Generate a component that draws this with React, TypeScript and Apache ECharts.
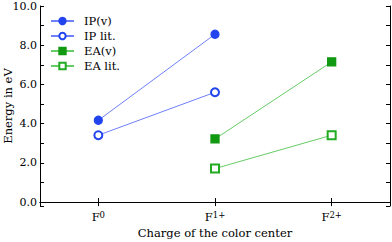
import React, { useEffect, useRef } from "react";
import * as echarts from "echarts";

const categories = ["F0", "F1+", "F2+"];
const ipV = [4.17, 8.56, null];
const ipLit = [3.41, 5.6, null];
const eaV = [null, 3.22, 7.15];
const eaLit = [null, 1.71, 3.41];

const FONT = "DejaVu Serif";

export default function App() {
  const ref = useRef<HTMLDivElement>(null);
  useEffect(() => {
    const chart = echarts.init(ref.current!, null, { renderer: "svg" });
    const yBase = {
      type: "value" as const,
      min: -0.2,
      max: 10,
      splitNumber: 5,
      splitLine: { show: false },
      axisLine: { show: true, lineStyle: { color: "#000", width: 1 } },
      axisTick: { show: true, inside: true, length: 4, lineStyle: { color: "#000" } },
      minorTick: { show: true, splitNumber: 2, length: 4, lineStyle: { color: "#000" } },
    };
    const xBase = {
      type: "category" as const,
      data: categories,
      boundaryGap: true,
      splitLine: { show: false },
      axisLine: { show: true, lineStyle: { color: "#000", width: 1 } },
      axisTick: { show: true, inside: true, length: 4, alignWithLabel: true, lineStyle: { color: "#000" } },
    };
    const line = (name: string, data: (number | null)[], color: string, lineColor: string, symbol: string) => ({
      name,
      type: "line" as const,
      data,
      symbol,
      symbolSize: 8,
      connectNulls: false,
      itemStyle: { color, borderColor: color, borderWidth: 1.3 },
      lineStyle: { color: lineColor, width: 1 },
    });
    chart.setOption({
      animation: false,
      textStyle: { fontFamily: FONT },
      grid: { left: 40, top: 6, right: 2, bottom: 36, containLabel: false, outerBoundsMode: "none" },
      legend: {
        orient: "vertical",
        left: 50,
        top: 15,
        padding: 0,
        itemWidth: 23,
        itemHeight: 8,
        itemGap: 3,
        textStyle: { fontFamily: FONT, fontSize: 11.5, color: "#000", padding: [0, 0, 0, 5] },
        data: ["IP(v)", "IP lit.", "EA(v)", "EA lit."],
      },
      xAxis: [
        {
          ...xBase,
          position: "bottom",
          name: "Charge of the color center",
          nameLocation: "middle",
          nameGap: 21,
          nameMoveOverlap: false,
          nameTextStyle: { fontFamily: FONT, fontSize: 11.5, color: "#000" },
          axisLabel: {
            fontFamily: FONT,
            fontSize: 11.5,
            color: "#000",
            margin: 4,
            formatter: (v: string) => `{b|F}{s|${v.slice(1)}}`,
            rich: {
              b: { fontFamily: FONT, fontSize: 11.5, color: "#000", verticalAlign: "bottom" },
              s: { fontFamily: FONT, fontSize: 8.5, color: "#000", verticalAlign: "top", padding: [0, 0, 4, 0] },
            },
          },
        },
        { ...xBase, position: "top", axisLabel: { show: false } },
      ],
      yAxis: [
        {
          ...yBase,
          position: "left",
          name: "Energy in eV",
          nameLocation: "middle",
          nameGap: 26,
          nameMoveOverlap: false,
          nameTextStyle: { fontFamily: FONT, fontSize: 11.5, color: "#000" },
          axisLabel: {
            fontFamily: FONT,
            fontSize: 11,
            color: "#000",
            margin: 3,
            showMinLabel: false,
            formatter: (v: number) => (Math.abs(v / 2 - Math.round(v / 2)) < 1e-6 ? v.toFixed(1) : ""),
          },
        },
        { ...yBase, position: "right", axisLabel: { show: false } },
      ],
      series: [
        line("IP(v)", ipV, "#2244ee", "#6f80fa", "circle"),
        line("IP lit.", ipLit, "#2244ee", "#6f80fa", "emptyCircle"),
        line("EA(v)", eaV, "#119911", "#66cc66", "rect"),
        line("EA lit.", eaLit, "#22aa22", "#66cc66", "emptyRect"),
      ],
    });
    return () => chart.dispose();
  }, []);
  return <div ref={ref} style={{ width: 392, height: 242, position: "absolute", left: 0, top: 0, background: "#fff" }} />;
}
